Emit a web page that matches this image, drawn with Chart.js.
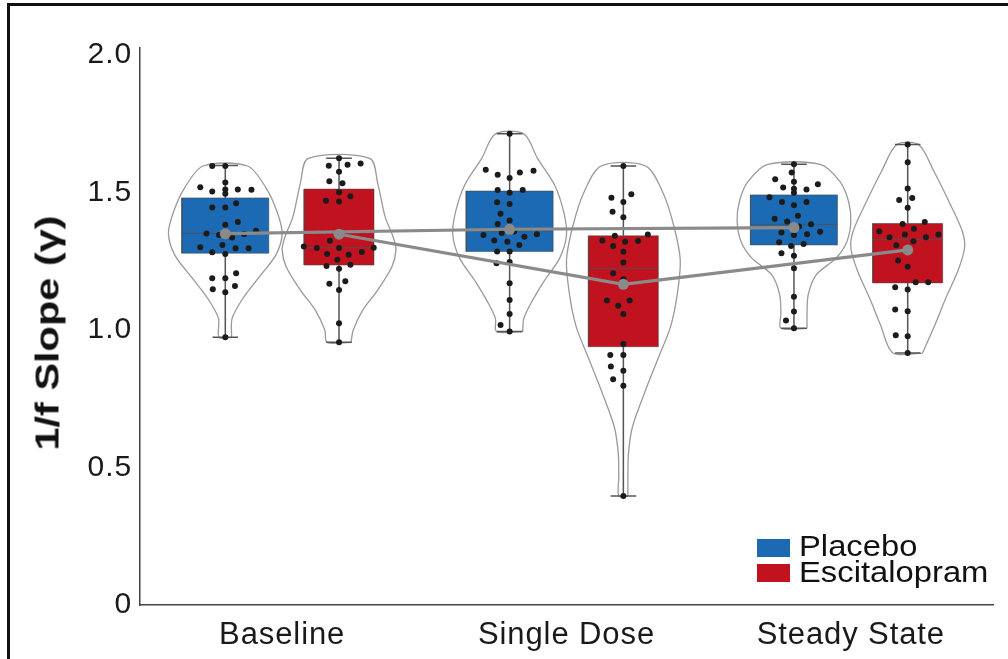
<!DOCTYPE html>
<html>
<head>
<meta charset="utf-8">
<script src="https://cdn.jsdelivr.net/npm/chart.js@4.4.1/dist/chart.umd.min.js"></script>
<style>
  html, body { margin: 0; padding: 0; background: #fff; }
  #wrap { position: relative; width: 1008px; height: 659px; overflow: hidden; }
  #frame { position: absolute; left: 7px; top: 3px; right: -10px; bottom: -10px;
           border-left: 3px solid #111; border-top: 3px solid #111; }
  #chart { position: absolute; left: 0; top: 0; }
  #ytitle { position: absolute; left: 47px; top: 333px; white-space: nowrap;
            font-family: 'Liberation Sans', Arial, sans-serif; font-weight: bold; font-size: 34px; color: #111;
            transform: translate(-50%, -50%) rotate(-90deg) scaleX(1.22); }
  .lg-sw { position: absolute; width: 33px; height: 18px; }
  .lg-tx { position: absolute; font-family: 'Liberation Sans', Arial, sans-serif;
           font-size: 29px; line-height: 29px; color: #111; white-space: nowrap;
           transform-origin: left center; transform: scaleX(1.13); }
</style>
</head>
<body>
<div id="wrap">
  <div id="frame"></div>
  <canvas id="chart" width="1008" height="659"></canvas>
  <div id="ytitle">1/f Slope (γ)</div>
  <div id="legend"></div>
</div>
<script>
// ---------------- DATOS ----------------
const CATEGORIES = ['Baseline', 'Single Dose', 'Steady State'];
const GROUPS = ['Placebo', 'Escitalopram'];
const GROUP_COLORS = ['#1c6ab4', '#c1121f'];
const Y_TICKS = [0, 0.5, 1.0, 1.5, 2.0];

// resumen de cajas (Baseline, Single Dose, Steady State)
const placeboQ1     = [1.279, 1.285, 1.309];
const placeboQ3     = [1.480, 1.505, 1.491];
const placeboMedian = [1.351, 1.360, 1.384];
const placeboMin    = [0.973, 0.994, 1.006];
const placeboMax    = [1.598, 1.713, 1.602];
const placeboMean   = [1.350, 1.366, 1.372];

const escQ1     = [1.236, 0.939, 1.171];
const escQ3     = [1.512, 1.342, 1.387];
const escMedian = [1.299, 1.224, 1.328];
const escMin    = [0.955, 0.396, 0.916];
const escMax    = [1.624, 1.596, 1.674];
const escMean   = [1.348, 1.166, 1.291];

// sujetos individuales
const placeboPoints = [
  [1.596,1.596,1.536,1.519,1.503,1.511,1.511,1.510,1.495,1.445,1.445,1.461,1.382,1.392,1.351,1.345,1.336,1.349,1.361,1.301,1.282,1.309,1.297,1.297,1.276,1.188,1.188,1.206,1.148,1.137,1.160,0.973],
  [1.713,1.582,1.564,1.552,1.572,1.579,1.509,1.499,1.509,1.464,1.458,1.422,1.398,1.385,1.345,1.352,1.358,1.339,1.348,1.325,1.321,1.309,1.285,1.285,1.242,1.247,1.170,1.109,1.058,1.018,0.994],
  [1.602,1.572,1.539,1.548,1.518,1.513,1.511,1.530,1.499,1.482,1.465,1.453,1.465,1.415,1.404,1.394,1.376,1.384,1.354,1.345,1.348,1.357,1.319,1.305,1.312,1.279,1.270,1.224,1.121,1.067,1.034,1.006]
];
// jitter horizontal (fraccion del ancho del violin)
const placeboJitter = [
  [-0.23,0,0,-0.44,-0.23,0,0.22,0.46,0,-0.23,0,0.19,0,0.22,-0.33,-0.11,0.12,0.33,0.54,-0.44,-0.23,-0.05,0.18,0.41,0,-0.23,0,0.19,-0.22,0,0.17,0],
  [0,-0.42,-0.21,0,0.18,0.42,-0.21,0,0.23,-0.22,0,-0.16,0,-0.21,-0.46,-0.14,0.08,0.26,0.48,-0.27,-0.04,0.17,-0.22,0,-0.23,0,0,0,0,-0.16,0],
  [0,-0.04,0,-0.33,-0.19,0,0.22,0.42,0,-0.43,-0.21,0,0.22,0.07,-0.34,-0.12,0.09,0.3,-0.22,0,0.23,0.46,-0.26,-0.05,0.17,-0.22,0,0,0,0,-0.14,0]
];
const escPoints = [
  [1.624,1.597,1.601,1.605,1.575,1.541,1.533,1.501,1.470,1.467,1.486,1.324,1.303,1.298,1.298,1.299,1.276,1.273,1.283,1.255,1.232,1.222,1.237,1.168,1.177,1.145,1.024,0.955],
  [1.596,1.481,1.493,1.465,1.430,1.410,1.342,1.347,1.325,1.305,1.321,1.323,1.284,1.245,1.206,1.184,1.107,1.088,1.107,1.058,0.949,0.909,0.909,0.867,0.852,0.821,0.797,0.396],
  [1.674,1.610,1.514,1.472,1.480,1.444,1.385,1.392,1.359,1.368,1.337,1.347,1.337,1.347,1.322,1.308,1.252,1.230,1.173,1.173,1.155,1.147,1.074,1.068,0.981,0.977,0.916]
];
const escJitter = [
  [0,-0.18,0.15,0.38,0,-0.17,0.06,0,-0.23,0,0.2,-0.16,-0.62,-0.39,0,0.61,-0.21,0.17,0.4,-0.03,-0.22,0,0.2,-0.17,0.11,0,0,0],
  [0,-0.21,0.14,0,-0.19,0,-0.15,0.43,-0.37,-0.18,0.03,0.26,0,0,-0.18,0,-0.29,-0.09,0.11,0,0,-0.23,0,-0.22,0,-0.18,0,0],
  [0,0,0,-0.15,0.08,0,-0.09,0.3,-0.5,0.11,-0.32,-0.05,0.32,0.54,0.1,-0.2,-0.17,0,0.14,0.36,-0.22,0,-0.22,0,-0.21,0,0]
];

// perfiles de densidad de los violines (valor, ancho relativo)
const placeboViolinY = [
  [0.973,1.042,1.115,1.188,1.273,1.351,1.430,1.515,1.596],
  [0.994,1.042,1.103,1.176,1.261,1.345,1.430,1.527,1.624,1.713],
  [1.006,1.060,1.127,1.200,1.261,1.321,1.394,1.467,1.539,1.602]
];
const placeboViolinW = [
  [0.11,0.12,0.31,0.58,0.89,1.0,0.91,0.72,0.39],
  [0.23,0.25,0.39,0.6,0.88,1.0,0.95,0.79,0.49,0.25],
  [0.23,0.23,0.25,0.39,0.74,0.93,1.0,0.96,0.81,0.46]
];
const escViolinY = [
  [0.955,1.0,1.073,1.145,1.23,1.291,1.339,1.412,1.533,1.624],
  [0.396,0.467,0.552,0.648,0.770,0.891,1.012,1.133,1.255,1.376,1.497,1.596],
  [0.916,1.019,1.116,1.213,1.298,1.359,1.456,1.577,1.674]
];
const escViolinW = [
  [0.21,0.25,0.42,0.68,0.93,1.0,0.95,0.81,0.68,0.54],
  [0.08,0.08,0.09,0.16,0.37,0.6,0.83,0.95,1.0,0.89,0.7,0.39],
  [0.26,0.48,0.67,0.88,1.0,0.96,0.75,0.46,0.19]
];

// ---------------- ESTILO ----------------
const FONT = "'Liberation Sans', Arial, sans-serif";
const GROUP_OFFSET = 0.2;     // separacion placebo / escitalopram
const VIOLIN_HALF = 0.2;      // medio ancho maximo del violin
const BOX_HALF = [0.153, 0.123];
const CAP_HALF = 0.045;

const SERIES = [
  { q1: placeboQ1, q3: placeboQ3, med: placeboMedian, min: placeboMin, max: placeboMax, mean: placeboMean,
    pts: placeboPoints, jit: placeboJitter, vy: placeboViolinY, vw: placeboViolinW },
  { q1: escQ1, q3: escQ3, med: escMedian, min: escMin, max: escMax, mean: escMean,
    pts: escPoints, jit: escJitter, vy: escViolinY, vw: escViolinW }
];

const xAt = (ci, gi) => ci + (gi === 0 ? -GROUP_OFFSET : GROUP_OFFSET);
const gap = x => ({ x, y: null });

const lineBase = { type: 'line', pointRadius: 0, tension: 0, fill: false };
const datasets = [];

SERIES.forEach((s, gi) => {
  CATEGORIES.forEach((cat, ci) => {
    const xc = xAt(ci, gi);

    // violin
    const right = s.vy[ci].map((y, k) => ({ x: xc + s.vw[ci][k] * VIOLIN_HALF, y }));
    const left = s.vy[ci].map((y, k) => ({ x: xc - s.vw[ci][k] * VIOLIN_HALF, y })).reverse();
    datasets.push({ ...lineBase, data: [...right, ...left, right[0]], tension: 0.3,
      borderColor: '#9a9a9a', borderWidth: 1.3, order: 5 });

    // caja
    const bh = BOX_HALF[gi];
    datasets.push({ ...lineBase, order: 4, fill: 'shape',
      data: [{ x: xc - bh, y: s.q1[ci] }, { x: xc + bh, y: s.q1[ci] }, { x: xc + bh, y: s.q3[ci] },
             { x: xc - bh, y: s.q3[ci] }, { x: xc - bh, y: s.q1[ci] }],
      backgroundColor: GROUP_COLORS[gi], borderColor: 'rgba(70,70,70,0.55)', borderWidth: 1 });

    // mediana
    datasets.push({ ...lineBase, order: 3,
      data: [{ x: xc - bh, y: s.med[ci] }, { x: xc + bh, y: s.med[ci] }],
      borderColor: 'rgba(80,80,80,0.75)', borderWidth: 1.2 });

    // bigotes
    datasets.push({ ...lineBase, order: 2, spanGaps: false,
      data: [{ x: xc - CAP_HALF, y: s.max[ci] }, { x: xc + CAP_HALF, y: s.max[ci] }, gap(xc),
             { x: xc, y: s.max[ci] }, { x: xc, y: s.q3[ci] }, gap(xc),
             { x: xc, y: s.q1[ci] }, { x: xc, y: s.min[ci] }, gap(xc),
             { x: xc - CAP_HALF, y: s.min[ci] }, { x: xc + CAP_HALF, y: s.min[ci] }],
      borderColor: '#555', borderWidth: 1.5 });
  });

  // puntos individuales
  const pts = [];
  CATEGORIES.forEach((cat, ci) => {
    s.pts[ci].forEach((y, k) => pts.push({ x: xAt(ci, gi) + s.jit[ci][k] * VIOLIN_HALF, y }));
  });
  datasets.push({ type: 'line', showLine: false, data: pts, order: 1,
    pointRadius: 3, pointBackgroundColor: '#1b1b1b', pointBorderWidth: 0 });

  // medias conectadas
  datasets.push({ type: 'line', order: 0, tension: 0, fill: false,
    data: CATEGORIES.map((c, ci) => ({ x: xAt(ci, gi), y: s.mean[ci] })),
    borderColor: '#8a8a8a', borderWidth: 3.2,
    pointRadius: 5.5, pointBackgroundColor: '#8a8a8a', pointBorderWidth: 0 });
});

// espaciado de letras para las etiquetas del canvas
const tracking = {
  id: 'tracking',
  beforeDraw(chart) { chart.ctx.letterSpacing = '0.9px'; }
};

new Chart(document.getElementById('chart').getContext('2d'), {
  type: 'line',
  data: { datasets },
  plugins: [tracking],
  options: {
    responsive: false,
    animation: false,
    layout: { padding: { left: 26, right: 15, top: 48, bottom: 0 } },
    plugins: { legend: { display: false }, tooltip: { enabled: false } },
    scales: {
      x: {
        type: 'linear', min: -0.5, max: 2.5,
        grid: { display: false },
        border: { display: true, color: '#444', width: 1.5 },
        afterBuildTicks: sc => { sc.ticks = CATEGORIES.map((c, i) => ({ value: i })); },
        afterFit: sc => { sc.height = 54; },
        ticks: { callback: v => CATEGORIES[v], color: '#1a1a1a', padding: 4,
                 autoSkip: false, maxRotation: 0, font: { family: FONT, size: 31 } }
      },
      y: {
        type: 'linear', min: 0, max: 2.025,
        grid: { display: false },
        border: { display: true, color: '#444', width: 1.5 },
        afterBuildTicks: sc => { sc.ticks = Y_TICKS.map(v => ({ value: v })); },
        afterFit: sc => { sc.width = 114; },
        ticks: { callback: v => (v === 0 ? '0' : v.toFixed(1)), color: '#1a1a1a', padding: 0,
                 font: { family: FONT, size: 30 } }
      }
    }
  }
});

// ---------------- LEYENDA ----------------
const legend = document.getElementById('legend');
GROUPS.forEach((g, i) => {
  const sw = document.createElement('div');
  sw.className = 'lg-sw';
  sw.style.left = '757px';
  sw.style.top = (539 + i * 25) + 'px';
  sw.style.background = GROUP_COLORS[i];
  const tx = document.createElement('div');
  tx.className = 'lg-tx';
  tx.style.left = '799px';
  tx.style.top = (532 + i * 26) + 'px';
  tx.textContent = g;
  legend.appendChild(sw);
  legend.appendChild(tx);
});
</script>
</body>
</html>
